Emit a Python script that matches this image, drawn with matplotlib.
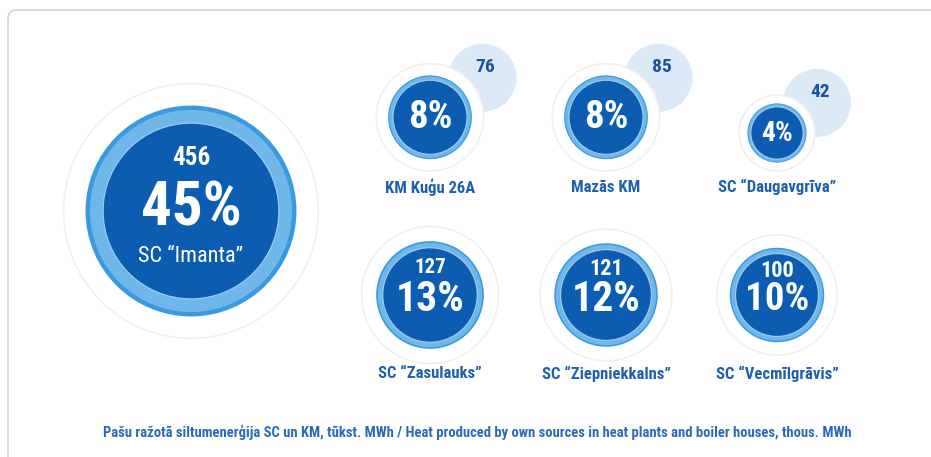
import matplotlib
matplotlib.use("Agg")
import matplotlib.pyplot as plt
from matplotlib.patches import Circle, FancyBboxPatch
from matplotlib import font_manager
import numpy as np

#Data: heat produced by own sources (thous. MWh) and share of total
names = ["SC \u201cImanta\u201d", "KM Kuģu 26A", "Mazās KM", "SC \u201cDaugavgrīva\u201d",
         "SC \u201cZasulauks\u201d", "SC \u201cZiepniekkalns\u201d", "SC \u201cVecmīlgrāvis\u201d"]
values = [456, 76, 85, 42, 127, 121, 100]
shares = [45, 8, 8, 4, 13, 12, 10]
footer = ("Pašu ražotā siltumenerģija SC un KM, tūkst. MWh / "
          "Heat produced by own sources in heat plants and boiler houses, thous. MWh")

#Layout (pixel coordinates, y goes down)
W, H = 931, 457
scale = 13.1            # circle radius = scale * sqrt(share)
bigCenter = (191, 211)
colX = [430, 606, 777]
row1HaloBottom = 171
row2Y = 295
row1LabelY = 187
row2LabelY = 374
pctFont = [44, 28, 28, 20, 30, 30, 28]
valFont = [18, 14, 14, 14, 15, 16, 16]

#Colors
dark = "#0c5cb2"
ringOuter = "#3a9ae0"
ringInner = "#6fb7e9"
bubble = "#dce9f7"
labelColor = "#1f5fae"
bubbleText = "#1a55a0"

#Pick a narrow font if one is installed
installed = set(f.name for f in font_manager.fontManager.ttflist)
fontList = [f for f in ["Liberation Sans Narrow", "Roboto Condensed", "DejaVu Sans Condensed"] if f in installed]
fontList = fontList + ["DejaVu Sans"]
plt.rcParams["font.family"] = fontList
plt.rcParams["font.stretch"] = "condensed"

fig = plt.figure(figsize=(W / 100, H / 100), dpi=100)
ax = fig.add_axes([0, 0, 1, 1])
ax.set_xlim(0, W)
ax.set_ylim(H, 0)
ax.axis("off")

#Rounded panel border
panel = FancyBboxPatch((8, 10), W + 20, H + 20, boxstyle="round,pad=0,rounding_size=9",
                       fc="white", ec="#d2d2d2", lw=1.2, zorder=0)
ax.add_patch(panel)


def drawCircle(cx, cy, r, ringRatio):
    ax.add_patch(Circle((cx, cy), r * 1.45, fc="white", ec="#f0f0f0", lw=1.2, zorder=2))
    ax.add_patch(Circle((cx, cy), r * ringRatio, fc=ringOuter, ec="none", zorder=3))
    ax.add_patch(Circle((cx, cy), r * (1 + (ringRatio - 1) * 0.75), fc=ringInner, ec="none", zorder=3))
    ax.add_patch(Circle((cx, cy), r, fc=dark, ec="#a3cff0", lw=0.8, zorder=4))


radii = [scale * np.sqrt(s) for s in shares]

#Big circle
cx, cy = bigCenter
r = radii[0]
drawCircle(cx, cy, r, 1.2)
ax.text(cx, cy - 0.6 * r, str(values[0]), color="white", fontsize=valFont[0], fontweight="bold",
        ha="center", va="center", zorder=5)
ax.text(cx, cy - 0.03 * r, str(shares[0]) + "%", color="white", fontsize=pctFont[0], fontweight="bold",
        ha="center", va="center", zorder=5)
ax.text(cx, cy + 0.52 * r, names[0], color="white", fontsize=16,
        ha="center", va="center", zorder=5)

#Top row: value in a side bubble
for k in range(3):
    i = k + 1
    r = radii[i]
    cx = colX[k]
    cy = row1HaloBottom - 1.45 * r
    d = 1.45 * r + 12
    bx = cx + d * np.cos(np.radians(37))
    by = cy - d * np.sin(np.radians(37))
    ax.add_patch(Circle((bx, by), 34, fc=bubble, ec="none", zorder=1))
    ax.text(bx + 3, by - 11, str(values[i]), color=bubbleText, fontsize=valFont[i], fontweight="bold",
            ha="center", va="center", zorder=2)
    drawCircle(cx, cy, r, 1.13)
    ax.text(cx, cy, str(shares[i]) + "%", color="white", fontsize=pctFont[i], fontweight="bold",
            ha="center", va="center", zorder=5)
    ax.text(cx, row1LabelY, names[i], color=labelColor, fontsize=12, fontweight="bold",
            ha="center", va="center", zorder=5)

#Bottom row: value inside circle
for k in range(3):
    i = k + 4
    r = radii[i]
    cx = colX[k]
    cy = row2Y
    drawCircle(cx, cy, r, 1.14)
    ax.text(cx, cy - 0.58 * r, str(values[i]), color="white", fontsize=valFont[i], fontweight="bold",
            ha="center", va="center", zorder=5)
    ax.text(cx, cy + 0.1 * r, str(shares[i]) + "%", color="white", fontsize=pctFont[i], fontweight="bold",
            ha="center", va="center", zorder=5)
    ax.text(cx, row2LabelY, names[i], color=labelColor, fontsize=12, fontweight="bold",
            ha="center", va="center", zorder=5)

ax.text(477, 432, footer, color="#2a6ab8", fontsize=10.5, fontweight="bold",
        ha="center", va="center", zorder=5)

fig.savefig("out.png", dpi=100)
